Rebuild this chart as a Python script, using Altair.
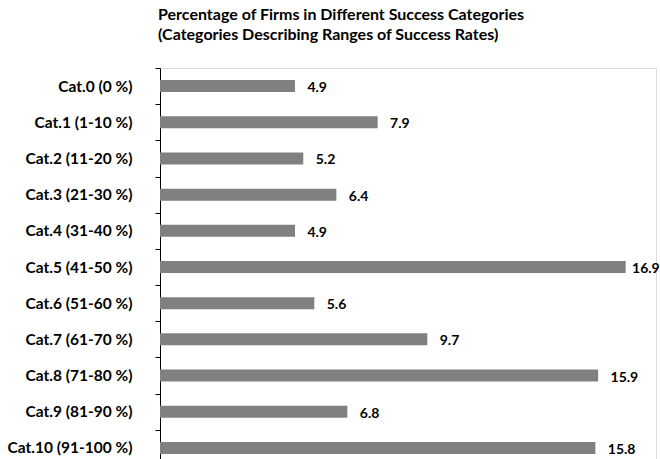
import altair as alt
import pandas as pd

categories = ["Cat.0 (0 %)", "Cat.1 (1-10 %)", "Cat.2 (11-20 %)", "Cat.3 (21-30 %)",
              "Cat.4 (31-40 %)", "Cat.5 (41-50 %)", "Cat.6 (51-60 %)", "Cat.7 (61-70 %)",
              "Cat.8 (71-80 %)", "Cat.9 (81-90 %)", "Cat.10 (91-100 %)"]
values = [4.9, 7.9, 5.2, 6.4, 4.9, 16.9, 5.6, 9.7, 15.9, 6.8, 15.8]

df = pd.DataFrame({"cat": categories, "val": values})
df["lbl"] = df["val"].map(lambda v: f"{v:.1f}")

FONT = "Lato"

y = alt.Y("cat:N", sort=categories, title=None,
          scale=alt.Scale(paddingInner=0, paddingOuter=0),
          axis=alt.Axis(labelFont=FONT, labelFontSize=15.5, labelFontWeight="bold",
                        labelColor="black", labelPadding=23, tickBand="extent",
                        tickSize=5, tickColor="black", domainColor="black",
                        tickOffset=-6, labelLimit=200))
xscale = alt.Scale(domain=[0, 18])
x = alt.X("val:Q", title=None, scale=xscale, axis=None)

bars = alt.Chart(df).mark_bar(color="#808080", size=12).encode(x=x, y=y)
labels = alt.Chart(df).transform_calculate(
    lx="min(datum.val + 0.45, 17.13)"
).mark_text(align="left", baseline="middle", dy=2,
            font=FONT, fontSize=14, fontWeight="bold",
            color="black").encode(x=alt.X("lx:Q", scale=xscale, axis=None),
                                  y=y, text="lbl:N")

chart = (bars + labels).properties(
    width=496, height=398,
    autosize=alt.AutoSizeParams(type="none"),
    padding={"left": 160, "top": 68, "right": 4, "bottom": 0},
    title=alt.TitleParams(
        text=["Percentage of Firms in Different Success Categories",
              "(Categories Describing Ranges of Success Rates)"],
        anchor="start", frame="group", font=FONT, fontSize=16, fontWeight="bold",
        color="black", lineHeight=20, offset=18, dx=-2),
).configure_view(stroke=None).configure(background="white")

chart.save("out.html", embed_options={"renderer": "svg", "actions": False})
